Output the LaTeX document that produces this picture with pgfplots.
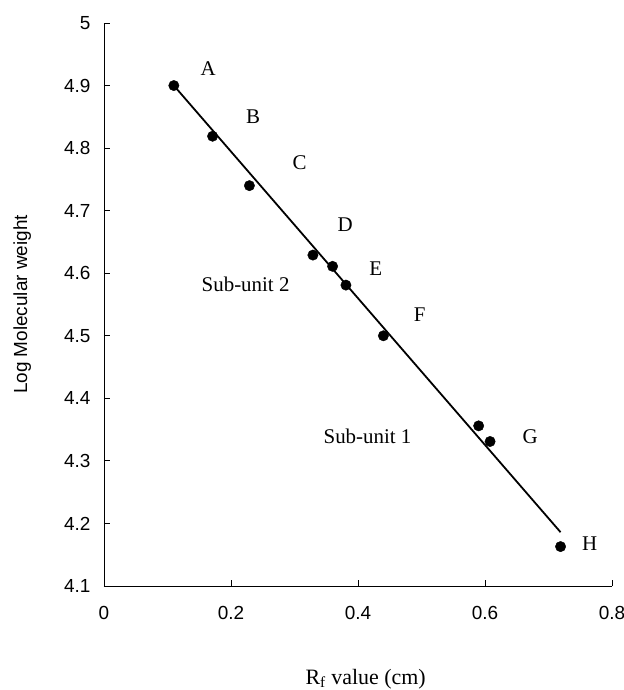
\documentclass[border=0pt]{standalone}
\usepackage{fontspec}
\setmainfont{Liberation Serif}
\setsansfont{Liberation Sans}
\usepackage{pgfplots}
\pgfplotsset{compat=1.18}

\begin{document}
\begin{tikzpicture}
\begin{axis}[
  width=508bp, height=563bp, scale only axis,
  at={(0,0)}, anchor=south west,
  xmin=0, xmax=0.8, ymin=4.1, ymax=5,
  xtick={0,0.2,0.4,0.6,0.8}, ytick={4.1,4.2,...,5.01},
  axis x line*=bottom, axis y line*=left,
  axis line style={line width=0.9pt, -},
  tick style={line width=0.9pt, black},
  tick align=inside, major tick length=6bp,
  /pgf/number format/assume math mode=true,
  tick label style={font=\sffamily\fontsize{19}{21}\selectfont},
  yticklabel style={xshift=-10bp},
  xticklabel style={yshift=-17bp},
  xlabel={R\textsubscript{f} value (cm)},
  xlabel style={font=\fontsize{22}{24}\selectfont, at={(axis description cs:0.515,-0.165)}, anchor=center},
  ylabel={Log Molecular weight},
  ylabel style={font=\sffamily\fontsize{19}{21}\selectfont, at={(axis description cs:-0.161,0.5)}, anchor=center, rotate=0},
  clip=false,
]
% fitted calibration line
\addplot[black, line width=1.8pt] coordinates {(0.11,4.900) (0.719,4.186)};
% marker proteins
\addplot[only marks, mark=*, mark size=5.2bp, black] coordinates {
  (0.110,4.900) (0.171,4.819) (0.229,4.740) (0.329,4.629) (0.360,4.611)
  (0.381,4.581) (0.440,4.500) (0.590,4.356) (0.608,4.331) (0.719,4.163)};
\begin{scope}[every node/.style={font=\fontsize{21}{23}\selectfont}]
\node at (axis cs:0.164,4.927) {A};
\node at (axis cs:0.235,4.850) {B};
\node at (axis cs:0.308,4.777) {C};
\node at (axis cs:0.380,4.678) {D};
\node at (axis cs:0.428,4.608) {E};
\node at (axis cs:0.497,4.534) {F};
\node at (axis cs:0.671,4.339) {G};
\node at (axis cs:0.765,4.168) {H};
\node at (axis cs:0.223,4.583) {Sub-unit 2};
\node at (axis cs:0.415,4.339) {Sub-unit 1};
\end{scope}
\end{axis}
\pgfresetboundingbox
\path[use as bounding box] (-104bp,-104bp) rectangle (520bp,586bp);
\end{tikzpicture}
\end{document}
